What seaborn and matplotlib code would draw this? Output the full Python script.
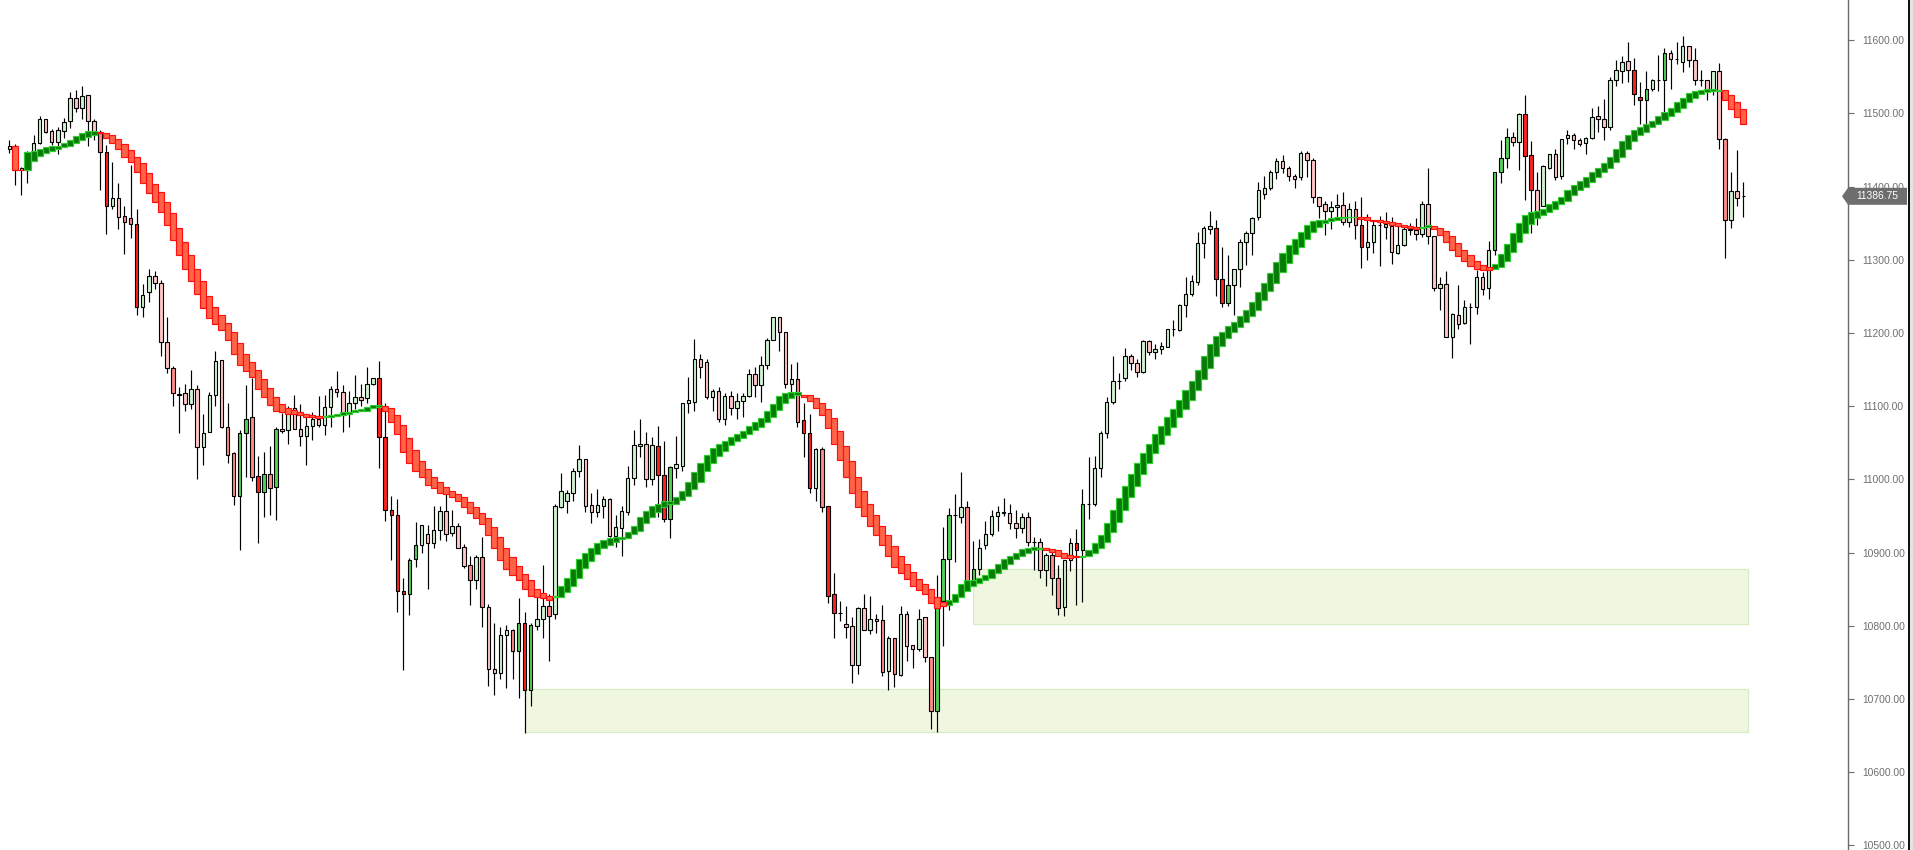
import numpy as np
import pandas as pd
import matplotlib
matplotlib.use("Agg")
import matplotlib.pyplot as plt
import matplotlib.transforms as mtransforms
from matplotlib.patches import Rectangle, Polygon
import seaborn as sns

# ---------------- data ----------------
opens = [11451,11456,11425,11423,11447,11460,11492,11476,11461,11476,11489,11521,11508,11525,11489,11475,11447,11373,11384,11360,
         11357,11349,11236,11256,11278,11268,11188,11152,11117,11118,11103,11124,11044,11065,11115,11163,11071,11036,10978,11063,
         11085,11005,10983,11007,10989,11069,11068,11097,11069,11060,11073,11083,11075,11099,11123,11119,11090,11104,11112,11111,
         11130,11138,11058,10958,10952,10847,10843,10891,10910,10926,10913,10931,10957,10927,10937,10908,10883,10862,10894,10826,
         10741,10735,10787,10794,10765,10804,10713,10800,10810,10827,10816,10963,10971,10982,11011,11028,10965,10956,10964,10973,
         10923,10934,10955,11002,11046,11048,11000,11046,11006,10946,11016,11019,11104,11106,11165,11160,11113,11121,11082,11114,
         11097,11107,11114,11144,11129,11156,11191,11222,11201,11131,11137,11081,11064,10988,11041,10964,10843,10818,10802,10800,
         10747,10825,10795,10810,10808,10738,10783,10733,10816,10774,10768,10812,10757,10684,10834,10891,10952,10949,10962,10860,
         10877,10910,10926,10950,10955,10954,10941,10933,10948,10915,10914,10876,10897,10866,10826,10890,10913,10904,10966,10966,
         11015,11063,11106,11134,11139,11169,11159,11147,11189,11174,11178,11181,11206,11204,11238,11253,11270,11323,11342,11344,
         11274,11241,11266,11287,11324,11336,11358,11390,11398,11420,11435,11425,11415,11413,11446,11436,11386,11376,11367,11372,
         11375,11352,11369,11347,11318,11325,11347,11349,11346,11309,11320,11342,11341,11335,11376,11333,11262,11267,11195,11225,
         11213,11235,11235,11276,11261,11313,11420,11439,11468,11461,11499,11443,11396,11373,11426,11445,11414,11466,11471,11463,
         11459,11467,11496,11493,11482,11545,11558,11571,11559,11523,11518,11533,11545,11545,11582,11574,11570,11592,11573,11545,
         11545,11532,11558,11465,11355,11394,11386.75]
highs = [11464,11458,11427,11449,11471,11496,11492,11479,11482,11494,11529,11532,11537,11525,11492,11478,11457,11434,11405,11374,
         11430,11369,11267,11288,11285,11272,11222,11155,11126,11130,11150,11129,11089,11120,11175,11163,11105,11038,11068,11129,
         11139,11032,11038,11046,11071,11091,11100,11115,11103,11085,11092,11114,11115,11127,11148,11129,11121,11143,11131,11154,
         11139,11162,11104,10977,10973,10866,10892,10942,10938,10938,10964,10964,10980,10958,10940,10912,10895,10897,10922,10830,
         10804,10798,10801,10796,10838,10819,10804,10840,10883,10843,10966,11009,10985,11016,11047,11028,10982,10987,10977,10974,
         10951,10964,11018,11068,11083,11065,11058,11073,11052,11018,11059,11104,11140,11192,11171,11165,11124,11126,11118,11121,
         11118,11118,11151,11153,11169,11193,11222,11222,11201,11157,11160,11104,11090,11043,11044,10964,10872,10834,10827,10812,
         10826,10844,10841,10816,10829,10786,10783,10827,10820,10774,10823,10812,10757,10870,10935,10961,10980,11010,10970,10916,
         10919,10943,10958,10964,10975,10967,10958,10954,10955,10921,10920,10900,10901,10883,10890,10920,10932,10987,11031,11032,
         11066,11112,11169,11145,11179,11172,11165,11191,11191,11185,11188,11206,11218,11240,11276,11279,11338,11346,11366,11354,
         11317,11306,11287,11329,11340,11359,11406,11414,11423,11439,11443,11428,11417,11448,11449,11439,11386,11380,11380,11390,
         11393,11377,11380,11386,11363,11355,11360,11365,11359,11348,11345,11350,11357,11380,11426,11333,11276,11285,11228,11266,
         11245,11241,11286,11284,11326,11420,11464,11480,11475,11500,11525,11462,11420,11430,11445,11452,11465,11477,11473,11466,
         11468,11507,11510,11520,11550,11573,11579,11598,11575,11543,11558,11547,11580,11590,11587,11597,11606,11592,11590,11559,
         11545,11558,11569,11467,11420,11450,11406]
lows = [11446,11402,11389,11405,11440,11458,11473,11457,11445,11467,11480,11502,11492,11456,11464,11395,11335,11370,11342,11308,
        11330,11225,11222,11243,11260,11168,11146,11100,11064,11094,11096,11001,11020,11065,11100,11070,11023,10965,10903,11004,
        10998,10913,10949,10952,10944,11064,11049,11069,11045,11020,11054,11071,11061,11072,11113,11065,11072,11096,11100,11105,
        11129,11016,10943,10890,10819,10740,10815,10880,10900,10851,10907,10917,10916,10923,10907,10879,10828,10851,10798,10718,
        10706,10728,10715,10728,10701,10654,10691,10794,10784,10752,10809,10961,10954,10970,11004,10955,10940,10949,10947,10921,
        10908,10896,10951,10992,11030,10990,10993,10949,10942,10920,11002,11012,11091,11093,11139,11110,11094,11079,11075,11088,
        11082,11085,11113,11112,11106,11151,11190,11176,11125,11120,11072,11030,10982,10970,10955,10831,10784,10806,10784,10722,
        10734,10795,10789,10790,10731,10712,10717,10732,10752,10743,10765,10751,10659,10655,10773,10821,10887,10941,10858,10855,
        10869,10905,10923,10929,10950,10932,10920,10927,10909,10876,10865,10855,10842,10815,10813,10875,10829,10832,10946,10964,
        11003,11057,11103,11124,11135,11150,11140,11145,11170,11165,11172,11181,11196,11203,11222,11250,11265,11303,11335,11251,
        11235,11237,11225,11263,11293,11307,11355,11383,11396,11411,11418,11408,11398,11409,11413,11377,11357,11334,11342,11359,
        11348,11345,11329,11289,11300,11309,11292,11329,11294,11308,11319,11334,11327,11331,11321,11257,11232,11194,11166,11206,
        11212,11185,11226,11252,11246,11307,11405,11425,11455,11423,11382,11336,11348,11373,11424,11409,11410,11458,11452,11455,
        11444,11465,11475,11463,11478,11537,11542,11543,11511,11486,11486,11530,11530,11491,11533,11567,11556,11564,11539,11537,
        11518,11525,11452,11303,11343,11373,11359]
closes = [11456,11425,11423,11447,11460,11493,11474,11461,11477,11488,11521,11507,11524,11489,11474,11447,11373,11385,11359,11351,
          11349,11236,11252,11278,11269,11188,11152,11118,11116,11103,11123,11044,11064,11115,11162,11071,11034,10978,11063,11083,
          11004,10983,11007,10988,11069,11066,11091,11069,11060,11073,11082,11075,11099,11123,11119,11088,11104,11113,11109,11130,
          11138,11058,10958,10952,10847,10844,10890,10910,10938,10913,10931,10957,10926,10937,10907,10882,10862,10894,10826,10741,
          10735,10787,10794,10765,10804,10713,10801,10810,10827,10814,10964,10984,10981,11012,11028,10964,10956,10965,10973,10923,
          10935,10957,11002,11047,11049,11000,11047,11006,10946,11017,11021,11104,11108,11165,11153,11113,11121,11082,11114,11097,
          11107,11114,11144,11129,11156,11191,11222,11201,11131,11137,11079,11064,10988,11041,10963,10841,10818,10817,10799,10747,
          10825,10795,10810,10807,10737,10783,10734,10816,10772,10768,10810,10757,10684,10826,10891,10952,10951,10962,10860,10877,
          10907,10926,10950,10955,10954,10940,10933,10949,10915,10914,10876,10897,10866,10825,10890,10913,10904,10966,10966,11015,
          11063,11106,11134,11135,11169,11159,11147,11189,11174,11178,11182,11206,11205,11238,11253,11271,11323,11343,11346,11274,
          11241,11266,11287,11324,11336,11357,11396,11398,11420,11435,11425,11414,11411,11446,11436,11386,11374,11367,11372,11375,
          11352,11370,11347,11318,11325,11347,11347,11345,11310,11320,11342,11341,11335,11376,11333,11262,11267,11194,11226,11212,
          11235,11235,11276,11260,11313,11420,11439,11468,11461,11499,11442,11396,11364,11428,11445,11413,11465,11471,11463,11458,
          11467,11495,11492,11482,11545,11559,11570,11559,11526,11518,11533,11545,11545,11582,11574,11574,11592,11573,11545,11545,
          11532,11558,11465,11354,11394,11385,11386.75]

# trend band (upper / lower edge of each step box)
band_hi = [np.nan,11456,11423,11447,11449,11451,11454,11455,11456,11459,11463,11469,11473,11476,11476,11474,11473,11470,11465,11458,
           11450,11441,11432,11418,11404,11392,11379,11364,11344,11325,11306,11288,11271,11251,11236,11224,11213,11201,11187,11171,
           11160,11149,11137,11125,11112,11103,11097,11095,11092,11090,11088,11086,11087,11088,11090,11092,11092,11095,11096,11099,
           11101,11101,11100,11097,11088,11075,11056,11040,11025,11014,11004,10996,10989,10984,10980,10976,10969,10962,10954,10947,
           10935,10921,10907,10894,10882,10871,10862,10851,10845,10841,10841,10855,10865,10877,10891,10900,10907,10913,10917,10920,
           10921,10922,10928,10937,10948,10957,10964,10967,10971,10971,10976,10984,10997,11010,11023,11034,11043,11048,11052,11058,
           11062,11066,11073,11078,11084,11093,11103,11114,11118,11119,11119,11116,11115,11111,11104,11096,11084,11066,11045,11025,
           11003,10984,10966,10951,10937,10924,10909,10895,10884,10873,10864,10857,10850,10840,10832,10835,10844,10857,10862,10862,
           10865,10870,10877,10884,10891,10896,10900,10905,10907,10908,10906,10906,10905,10903,10899,10897,10895,10896,10903,10913,
           10924,10940,10958,10974,10991,11008,11022,11036,11049,11062,11073,11085,11096,11108,11122,11135,11150,11168,11185,11196,
           11202,11209,11215,11223,11232,11242,11256,11269,11282,11297,11309,11320,11328,11338,11347,11353,11355,11355,11357,11358,
           11359,11359,11359,11359,11358,11355,11355,11353,11351,11350,11347,11346,11345,11345,11347,11346,11344,11339,11332,11323,
           11314,11306,11298,11293,11290,11294,11308,11321,11336,11350,11361,11365,11367,11369,11376,11381,11386,11395,11402,11407,
           11413,11420,11426,11432,11440,11451,11462,11471,11478,11482,11486,11490,11496,11502,11508,11515,11521,11528,11530,11532,
           11533,11533,11532,11532,11525,11515,11506]
band_lo = [np.nan,11423,11422,11423,11435,11442,11446,11449,11452,11454,11456,11459,11464,11468,11471,11473,11466,11459,11451,11441,
           11434,11420,11405,11391,11379,11365,11347,11327,11306,11287,11271,11253,11234,11220,11212,11204,11190,11172,11156,11148,
           11140,11124,11112,11101,11093,11092,11090,11090,11088,11085,11085,11084,11085,11085,11086,11088,11090,11092,11093,11094,
           11097,11099,11093,11079,11062,11038,11022,11011,11003,10993,10988,10982,10980,10976,10970,10963,10954,10947,10939,10924,
           10906,10890,10878,10870,10862,10851,10841,10839,10838,10835,10839,10839,10846,10855,10866,10879,10889,10898,10906,10911,
           10915,10918,10920,10925,10930,10940,10948,10955,10962,10966,10967,10972,10978,10987,10997,11011,11022,11032,11039,11047,
           11052,11056,11062,11067,11072,11078,11085,11095,11104,11111,11115,11113,11107,11097,11088,11070,11048,11026,11004,10982,
           10963,10950,10936,10924,10910,10895,10881,10872,10864,10855,10849,10843,10831,10824,10827,10829,10832,10839,10847,10855,
           10858,10862,10866,10872,10877,10884,10891,10896,10900,10904,10905,10903,10901,10896,10892,10893,10894,10894,10895,10899,
           10906,10915,10928,10942,10958,10976,10991,11008,11022,11036,11048,11061,11072,11085,11096,11109,11122,11137,11152,11168,
           11182,11193,11201,11208,11215,11223,11232,11245,11257,11269,11283,11295,11308,11317,11328,11338,11345,11350,11353,11355,
           11357,11358,11358,11356,11354,11353,11351,11350,11347,11346,11345,11343,11342,11344,11345,11342,11334,11325,11313,11305,
           11298,11291,11287,11286,11286,11287,11290,11298,11310,11324,11336,11349,11357,11361,11365,11370,11376,11381,11388,11395,
           11400,11406,11413,11420,11426,11433,11441,11451,11462,11470,11475,11481,11485,11491,11496,11502,11508,11515,11521,11526,
           11529,11531,11531,11518,11506,11495,11485]
# bar index where the band turns (r = falling, g = rising)
trend_turns = [(1, "r"), (3, "g"), (15, "r"), (52, "g"), (62, "r"), (90, "g"), (131, "r"), (155, "g"),
               (171, "r"), (177, "g"), (223, "r"), (233, "g"), (235, "r"), (245, "g"), (283, "r")]

# candle shading tiers
strong_down = [16, 21, 41, 61, 62, 63, 64, 65, 85, 107, 108, 131, 132, 135, 136, 176, 199, 200, 223, 250, 251, 268, 269]
mid_down = [15, 19, 20, 27, 36, 37, 40, 43, 76, 78, 83, 89, 130, 134, 144, 146, 152, 158, 172, 173, 222, 283]
strong_up = [38, 39, 42, 44, 66, 67, 84, 86, 109, 153, 154, 155, 159, 177, 201, 245, 246, 247, 270, 273]

# support zones (bar start, bar end, low, high)
zone_start = [159, 85]
zone_end = [286.8, 286.8]
zone_low = [10803, 10655]
zone_high = [10877, 10714]

y_ticks = [10500, 10600, 10700, 10800, 10900, 11000, 11100, 11200, 11300, 11400, 11500, 11600]
last_price = 11386.75

# ---------------- figure ----------------
sns.set_theme(style="white")
plt.rcParams["font.family"] = ["Liberation Sans", "DejaVu Sans"]

df = pd.DataFrame({"open": opens, "high": highs, "low": lows, "close": closes,
                   "bhi": band_hi, "blo": band_lo})
n = len(df)
df["x"] = np.arange(n)

W, H = 1913, 850
fig = plt.figure(figsize=(W / 100, H / 100), dpi=100)
fig.patch.set_facecolor("white")
ax_right_px = 1848
ax = fig.add_axes([0, 0, ax_right_px / W, 1])
ax.set_facecolor("white")

px_per_bar = 6.063
x0_px = 9.3
ax.set_xlim(-x0_px / px_per_bar, (ax_right_px - x0_px) / px_per_bar)
ax.set_ylim(10493.8, 11654.9)

# zones
for s, e, lo, hi in zip(zone_start, zone_end, zone_low, zone_high):
    ax.add_patch(Rectangle((s, lo), e - s, hi - lo, facecolor="#eff7e1", edgecolor="#d8ecc4",
                           linewidth=0.9, zorder=0.5))

# candle colours
colors = []
for i, r in df.iterrows():
    up = r["close"] >= r["open"]
    if up:
        c = "#55d055" if i in strong_up else "#cff3cf"
    else:
        if i in strong_down:
            c = "#ff2020"
        elif i in mid_down:
            c = "#ff8a8a"
        else:
            c = "#ffc6c6"
    colors.append(c)
df["color"] = colors

# wicks
ax.vlines(df["x"], df["low"], df["high"], color="black", linewidth=0.85, zorder=2)
# bodies
body_lo = np.minimum(df["open"], df["close"])
body_h = np.abs(df["close"] - df["open"])
ax.bar(df["x"], body_h, bottom=body_lo, width=0.58, color=df["color"], edgecolor="black",
       linewidth=0.8, zorder=3)

# trend band
state = [None] * n
turns = sorted(trend_turns)
for j, (start, st) in enumerate(turns):
    end = turns[j + 1][0] if j + 1 < len(turns) else n
    for k in range(start, end):
        state[k] = st
g = df.iloc[[k for k in range(n) if state[k] == "g"]]
r = df.iloc[[k for k in range(n) if state[k] == "r"]]
ax.bar(g["x"], g["bhi"] - g["blo"], bottom=g["blo"], width=1.0, color="#087a08",
       edgecolor="#2fcd2f", linewidth=0.85, zorder=4)
ax.bar(r["x"], r["bhi"] - r["blo"], bottom=r["blo"], width=1.0, color="#ff6348",
       edgecolor="#ff1010", linewidth=0.85, zorder=4)

# axes styling
for sp in ["top", "left", "bottom"]:
    ax.spines[sp].set_visible(False)
ax.spines["right"].set_visible(True)
ax.spines["right"].set_color("#6a6a6a")
ax.spines["right"].set_linewidth(1.0)
ax.set_xticks([])
ax.yaxis.tick_right()
ax.set_yticks(y_ticks)
ax.set_yticklabels([f"{v:.2f}" for v in y_ticks])
ax.tick_params(axis="y", direction="out", length=4, width=0.8, color="#6a6a6a",
               labelcolor="#6f6f6f", labelsize=7.4, pad=6, right=True, left=False)
ax.grid(False)

# right frame border
fig.patches.append(Rectangle((1909 / W, 0), 4 / W, 1, transform=fig.transFigure,
                             facecolor="#e4e4e4", edgecolor="none", zorder=5))
fig.patches.append(Rectangle((1908 / W, 0), 1.6 / W, 1, transform=fig.transFigure,
                             facecolor="#111111", edgecolor="none", zorder=6))

# last price tag
tr = mtransforms.blended_transform_factory(fig.transFigure, ax.transData)
hh = 11.6
tag = Polygon([(1842 / W, last_price), (1848 / W, last_price + hh), (1907 / W, last_price + hh),
               (1907 / W, last_price - hh), (1848 / W, last_price - hh)], closed=True,
              transform=tr, facecolor="#6e6e6e", edgecolor="none", zorder=7)
fig.patches.append(tag)
fig.text(1877 / W, last_price, f"{last_price:.2f}", transform=tr, ha="center", va="center",
         color="white", fontsize=7.4, zorder=8)

fig.savefig("out.png", dpi=100, facecolor="white")
